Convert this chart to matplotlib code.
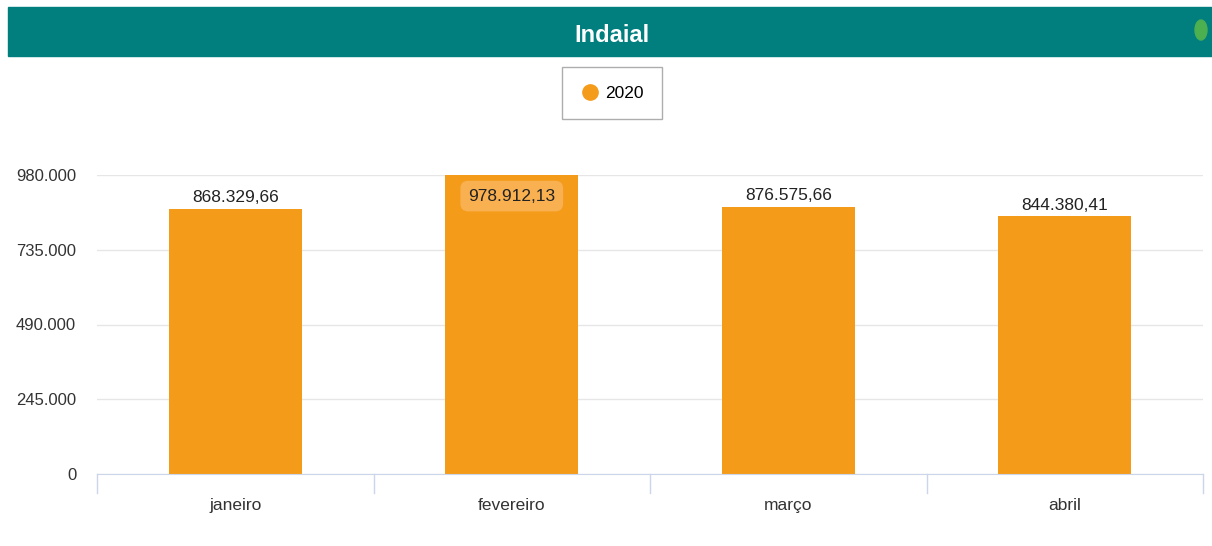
import matplotlib
matplotlib.use('Agg')
import matplotlib.pyplot as plt
from matplotlib.patches import Rectangle, Ellipse
from matplotlib.lines import Line2D

# data
meses = ['janeiro', 'fevereiro', 'março', 'abril']
valores = [868329.66, 978912.13, 876575.66, 844380.41]
serie = '2020'
yticks = [0, 245000, 490000, 735000, 980000]

plt.rcParams['font.family'] = ['Liberation Sans', 'DejaVu Sans']

laranja = '#f59b1a'


def fmt_br(v, dec=2):
    s = f'{v:,.{dec}f}'
    return s.replace(',', 'X').replace('.', ',').replace('X', '.')


fig = plt.figure(figsize=(12.12, 5.46), dpi=100)
fig.patch.set_facecolor('white')

# title bar
fig.patches.append(Rectangle((8 / 1212, 1 - 56 / 546), 1 - 8 / 1212, 49 / 546,
                             transform=fig.transFigure, color='#017f7f', zorder=0))
fig.text(612 / 1212, 1 - 36 / 546, 'Indaial', color='white', fontsize=17,
         fontweight='bold', ha='center', va='center')
fig.patches.append(Ellipse((1201 / 1212, 1 - 30 / 546), 12 / 1212, 20 / 546,
                           transform=fig.transFigure, color='#4caf50'))

ax = fig.add_axes([97 / 1212, 72 / 546, 1106 / 1212, 299 / 546])
x = list(range(len(meses)))
bars = ax.bar(x, valores, width=0.48, color=laranja, zorder=2, clip_on=False)

ax.set_xlim(-0.5, len(meses) - 0.5)
ax.set_ylim(0, 980000)
ax.set_yticks(yticks)
ax.set_yticklabels([fmt_br(t, 0) if t else '0' for t in yticks], fontsize=12, color='#333333')
ax.yaxis.grid(True, color='#e6e6e6', linewidth=1, zorder=0)
ax.tick_params(axis='y', length=0, pad=15)

ax.set_xticks(x)
ax.set_xticklabels(meses, fontsize=12.5, color='#333333')
ax.tick_params(axis='x', length=0, pad=17)
for b in [-0.5, 0.5, 1.5, 2.5, 3.5]:
    ax.plot([b, b], [0, -0.063], transform=ax.get_xaxis_transform(),
            color='#ccd6eb', lw=1, clip_on=False)

for s in ['top', 'right', 'left']:
    ax.spines[s].set_visible(False)
ax.spines['bottom'].set_color('#ccd6eb')

for i, v in enumerate(valores):
    if v > 950000:
        ax.text(i, v - 68000, fmt_br(v), ha='center', va='center', fontsize=12.5, color='#222222',
                bbox=dict(boxstyle='round,pad=0.45', fc='#f8b050', ec='none'))
    else:
        ax.text(i, v + 12000, fmt_br(v), ha='center', va='bottom', fontsize=12.5, color='#222222')

h = Line2D([], [], marker='o', linestyle='none', color=laranja, markersize=11)
leg = fig.legend([h], [serie], loc='center', bbox_to_anchor=(612 / 1212, 1 - 93 / 546),
                 fontsize=12.5, frameon=True, fancybox=False, handletextpad=0.3,
                 borderpad=1.05, handlelength=1.1)
leg.get_frame().set_edgecolor('#999999')

fig.savefig('out.png', dpi=100)
